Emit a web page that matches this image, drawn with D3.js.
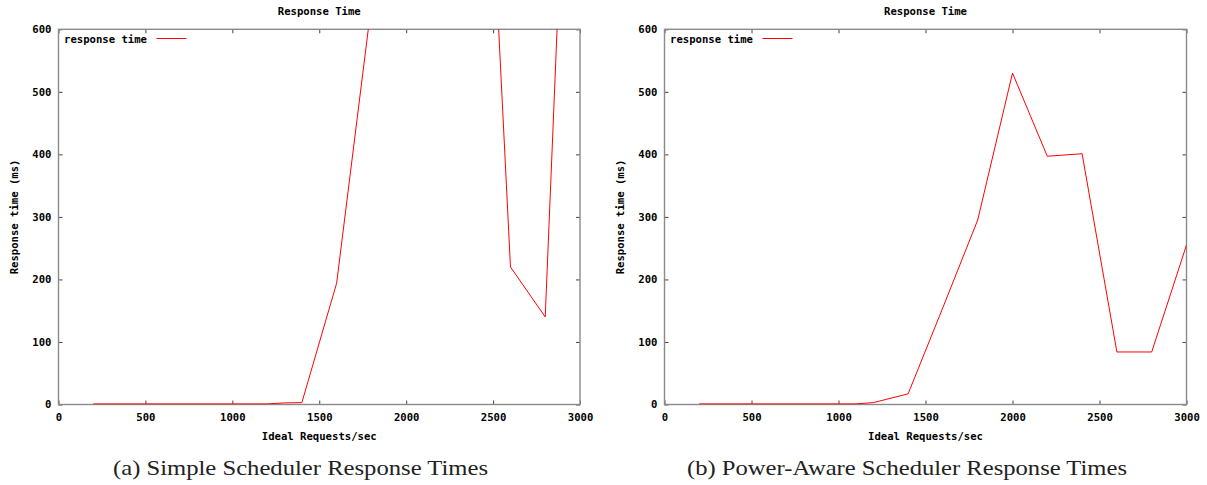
<!DOCTYPE html>
<html>
<head>
<meta charset="utf-8">
<script src="https://cdn.jsdelivr.net/npm/d3@7"></script>
<style>
  body { margin: 0; background: #fff; }
  .mono { font-family: "DejaVu Sans Mono", "Liberation Mono", monospace; font-weight: bold; font-size: 10.6px; fill: #000; }
  .caption { font-family: "Liberation Serif", "DejaVu Serif", serif; font-size: 22px; fill: #222; }
</style>
</head>
<body>
<svg id="chart" width="1207" height="485"></svg>
<script>
// request rates (x) and response times in ms (y)
var simpleReq  = [200, 400, 600, 800, 1000, 1200, 1300, 1400, 1600, 1800, 2000, 2200, 2400, 2600, 2800, 3000];
var simpleResp = [1, 1, 1, 1, 1, 1, 2.5, 3, 194, 640, 820, 1050, 1340, 220, 140, 1490];

var powerReq  = [200, 400, 600, 800, 1000, 1100, 1200, 1400, 1600, 1800, 2000, 2200, 2400, 2600, 2800, 3000];
var powerResp = [1, 1, 1, 1, 1, 1, 3, 17, 155, 295, 530, 397, 401, 84, 84, 255];

var xTicks = [0, 500, 1000, 1500, 2000, 2500, 3000];
var yTicks = [0, 100, 200, 300, 400, 500, 600];

var chartTitle = "Response Time";
var xTitle = "Ideal Requests/sec";
var yTitle = "Response time (ms)";
var seriesName = "response time";
var captions = ["(a) Simple Scheduler Response Times", "(b) Power-Aware Scheduler Response Times"];

var svg = d3.select("#chart");
var fmt = d3.format("d");

function drawPanel(id, left, right, xs, ys, caption, capX, capW) {
    var top = 29.3, bottom = 404.5;
    var g = svg.append("g");

    var x = d3.scaleLinear().domain([0, 3000]).range([left, right]);
    var y = d3.scaleLinear().domain([0, 600]).range([bottom, top]);

    // ticks on all four sides, pointing inward (gnuplot style)
    var xb = g.append("g").attr("transform", "translate(0," + bottom + ")")
        .call(d3.axisBottom(x).tickValues(xTicks).tickFormat(fmt).tickSize(-4).tickSizeOuter(0).tickPadding(9));
    var xt = g.append("g").attr("transform", "translate(0," + top + ")")
        .call(d3.axisTop(x).tickValues(xTicks).tickSize(-4).tickSizeOuter(0).tickFormat(""));
    var yl = g.append("g").attr("transform", "translate(" + left + ",0)")
        .call(d3.axisLeft(y).tickValues(yTicks).tickFormat(fmt).tickSize(-4).tickSizeOuter(0).tickPadding(7));
    var yr = g.append("g").attr("transform", "translate(" + right + ",0)")
        .call(d3.axisRight(y).tickValues(yTicks).tickSize(-4).tickSizeOuter(0).tickFormat(""));

    [xb, xt, yl, yr].forEach(function(a){
        a.select(".domain").remove();
        a.selectAll(".tick line").attr("stroke", "#444").attr("stroke-width", 1);
        a.selectAll(".tick text").attr("class", "mono").attr("font-family", null).attr("font-size", null);
    });

    // clip the line to the plot box
    g.append("clipPath").attr("id", "clip" + id)
      .append("rect")
        .attr("x", left).attr("y", top)
        .attr("width", right - left).attr("height", bottom - top);

    // border
    g.append("rect")
        .attr("x", left).attr("y", top)
        .attr("width", right - left).attr("height", bottom - top)
        .attr("fill", "none").attr("stroke", "#8a8a8a").attr("stroke-width", 1.4);

    var line = d3.line()
        .x(function(d, i){ return x(xs[i]); })
        .y(function(d){ return y(d); });

    g.append("path")
        .datum(ys)
        .attr("clip-path", "url(#clip" + id + ")")
        .attr("d", line)
        .attr("fill", "none")
        .attr("stroke", "#ff0000")
        .attr("stroke-width", 1);

    // legend
    g.append("text").attr("class", "mono")
        .attr("x", left + 5.5).attr("y", 43)
        .text(seriesName);
    g.append("line")
        .attr("x1", left + 98).attr("x2", left + 128)
        .attr("y1", 38.5).attr("y2", 38.5)
        .attr("stroke", "#ff0000").attr("stroke-width", 1);

    // titles
    var mid = (left + right) / 2;
    g.append("text").attr("class", "mono")
        .attr("x", mid).attr("y", 15)
        .attr("text-anchor", "middle")
        .text(chartTitle);
    g.append("text").attr("class", "mono")
        .attr("x", mid).attr("y", 439.5)
        .attr("text-anchor", "middle")
        .text(xTitle);
    g.append("text").attr("class", "mono")
        .attr("transform", "translate(" + (left - 41) + "," + ((top + bottom) / 2) + ") rotate(-90)")
        .attr("text-anchor", "middle")
        .text(yTitle);

    g.append("text").attr("class", "caption")
        .attr("x", capX).attr("y", 475)
        .attr("text-anchor", "middle")
        .attr("textLength", capW).attr("lengthAdjust", "spacingAndGlyphs")
        .text(caption);
}

drawPanel("a", 58.5, 580, simpleReq, simpleResp, captions[0], 300.5, 375);
drawPanel("b", 664.5, 1186.5, powerReq, powerResp, captions[1], 907, 440);
</script>
</body>
</html>
